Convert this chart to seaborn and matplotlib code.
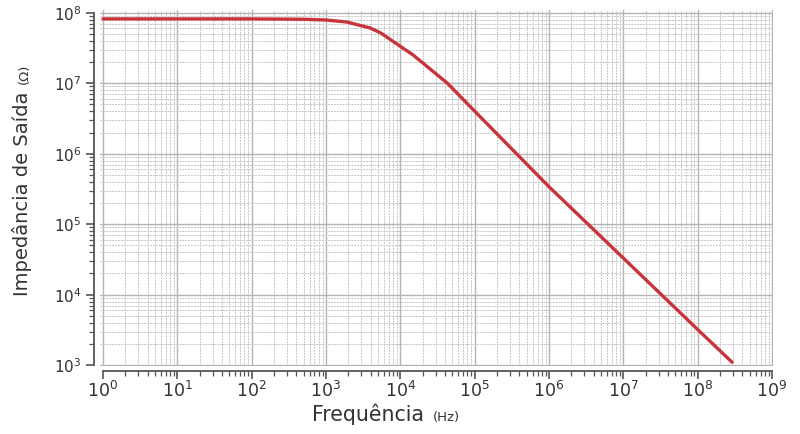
import matplotlib
matplotlib.use("Agg")
import matplotlib.pyplot as plt
import seaborn as sns
import pandas as pd
import numpy as np
from matplotlib.ticker import LogLocator, NullFormatter

# values
freq_hz = [1, 10, 100, 500, 1000, 1900, 3900, 5400, 1.5e4, 4.3e4,
           1.2e5, 1.0e6, 1.0e7, 1.0e8, 2.9e8]
impedance_ohm = [8.2e7, 8.2e7, 8.2e7, 8.1e7, 7.9e7, 7.4e7, 6.1e7, 5.2e7,
                 2.5e7, 1.0e7, 3.3e6, 3.4e5, 3.3e4, 3.2e3, 1.1e3]

df = pd.DataFrame({"freq": freq_hz, "z": impedance_ohm})

sns.set_style("ticks")
plt.rcParams['font.family'] = ['DejaVu Sans']

fig = plt.figure(figsize=(8, 4.34), dpi=100)
ax = fig.add_axes([0.125, 0.157, 0.841, 0.82])

sns.lineplot(data=df, x="freq", y="z", color="#c9343c", linewidth=2.4, ax=ax)

ax.set_xscale("log")
ax.set_yscale("log")
ax.set_xlim(10 ** -0.04, 10 ** 9.01)
ax.set_ylim(10 ** 2.99, 10 ** 8.04)

ax.xaxis.set_major_locator(LogLocator(base=10, numticks=20))
ax.yaxis.set_major_locator(LogLocator(base=10, numticks=20))
ax.xaxis.set_minor_locator(LogLocator(base=10, subs=np.arange(2, 10), numticks=100))
ax.yaxis.set_minor_locator(LogLocator(base=10, subs=np.arange(2, 10), numticks=100))
ax.xaxis.set_minor_formatter(NullFormatter())
ax.yaxis.set_minor_formatter(NullFormatter())

ax.grid(which="major", color="#b4b4b4", linewidth=1.0)
ax.grid(which="minor", color="#c6c6c6", linewidth=0.7, linestyle=(0, (2, 1)))
ax.set_axisbelow(True)

ax.tick_params(axis="x", which="major", labelsize=12.5, colors="#555555",
               length=6, width=1.2, labelcolor="#333333", pad=1)
ax.tick_params(axis="y", which="major", labelsize=11, colors="#555555",
               length=6, width=1.2, labelcolor="#333333")
ax.tick_params(which="minor", length=3.5, width=0.9, colors="#555555")

for s in ["left", "bottom"]:
    ax.spines[s].set_color("#555555")
    ax.spines[s].set_linewidth(1.3)

sns.despine(ax=ax, offset=4, trim=True)
ax.set_xlabel("")
ax.set_ylabel("")

# axis titles, unit part in a smaller size
fig.text(312 / 800, 1 - 421 / 434, "Frequência", fontsize=14.8, color="#333333",
         ha="left", va="baseline")
fig.text(433 / 800, 1 - 421 / 434, "(Hz)", fontsize=9.5, color="#333333",
         ha="left", va="baseline")
fig.text(28 / 800, 1 - 296 / 434, "Impedância de Saída", fontsize=14,
         color="#333333", rotation=90, rotation_mode="anchor",
         ha="left", va="baseline")
fig.text(28 / 800, 1 - 84 / 434, "(Ω)", fontsize=9.5, color="#333333",
         rotation=90, rotation_mode="anchor", ha="left", va="baseline")

fig.savefig("out.png", dpi=100)
